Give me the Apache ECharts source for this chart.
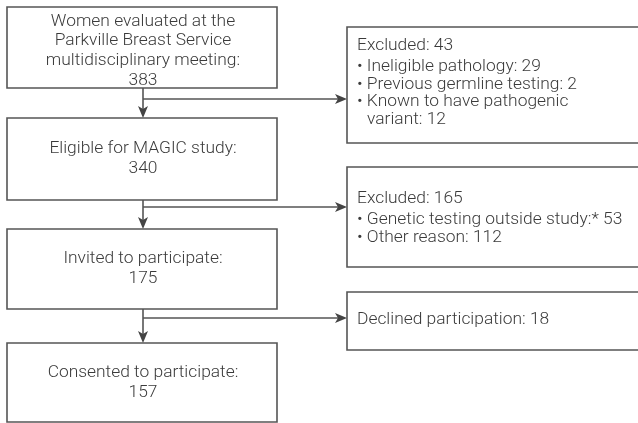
<!DOCTYPE html>
<html>
<head>
<meta charset="utf-8">
<script src="https://cdn.jsdelivr.net/npm/echarts@6/dist/echarts.min.js"></script>
<style>
  html, body { margin: 0; padding: 0; background: #fff; }
  #main { width: 638px; height: 423px; }
</style>
</head>
<body>
<div id="main"></div>
<script>
// flow stages (left column)
const stageLabels = ['Women evaluated at the\nParkville Breast Service\nmultidisciplinary meeting:', 'Eligible for MAGIC study:', 'Invited to participate:', 'Consented to participate:'];
const stageCounts = [383, 340, 175, 157];

// drop-outs (right column)
const outHeads = ['Excluded', 'Excluded', 'Declined participation'];
const outCounts = [43, 165, 18];
const reasonLabels = [
    ['Ineligible pathology', 'Previous germline testing', 'Known to have pathogenic\nvariant'],
    ['Genetic testing outside study:*', 'Other reason'],
    []
];
const reasonCounts = [[29, 2, 12], [53, 112], []];

// layout (pixels)
const leftX = 7, leftW = 270, trunkX = 143;
const leftTop = [7, 118, 229, 343], leftBot = [88, 200, 309, 422];
const rightX = 347, rightW = 330;
const rightTop = [27, 167, 292], rightBot = [143, 267, 350];
const branchY = [99, 207, 318];
const headY = [46, 199, 320], firstBulletY = [67, 220, 0];
const lineGap = 17.5, stageLH = 19.8;

const ink = '#3a3a3a', stroke = '#555', lw = 1.6;
const font = 'Roboto, "Open Sans", sans-serif';

function box(x, y, w, h) {
    return { type: 'rect', shape: { x: x, y: y, width: w, height: h }, style: { fill: 'none', stroke: stroke, lineWidth: lw } };
}
function seg(x1, y1, x2, y2) {
    return { type: 'line', shape: { x1: x1, y1: y1, x2: x2, y2: y2 }, style: { stroke: stroke, lineWidth: lw } };
}
// notched arrowhead, tip at (x, y)
function head(x, y, dir) {
    const L = 12, W = 5, N = 9;
    const pts = dir === 'down'
        ? [[x, y], [x - W, y - L], [x, y - N], [x + W, y - L]]
        : [[x, y], [x - L, y - W], [x - N, y], [x - L, y + W]];
    return { type: 'polygon', shape: { points: pts }, style: { fill: '#444' } };
}
function txt(s, x, y, align) {
    return { type: 'text', x: x, y: y, style: { text: s, fill: ink, font: '300 17.4px ' + font, align: align || 'left', verticalAlign: 'middle', lineHeight: stageLH } };
}

const els = [];
stageLabels.forEach((lab, i) => {
    els.push(box(leftX, leftTop[i], leftW, leftBot[i] - leftTop[i]));
    const s = lab + '\n' + stageCounts[i];
    const cy = (leftTop[i] + leftBot[i]) / 2 + (i === 0 ? 3.5 : 0);
    els.push(txt(s, leftX + leftW / 2 + 1, cy, 'center'));
    if (i < stageLabels.length - 1) {
        els.push(seg(trunkX, leftBot[i], trunkX, leftTop[i + 1] - 4));
        els.push(head(trunkX, leftTop[i + 1], 'down'));
        els.push(seg(trunkX, branchY[i], rightX - 4, branchY[i]));
        els.push(head(rightX, branchY[i], 'right'));
    }
});

outHeads.forEach((h, i) => {
    els.push(box(rightX, rightTop[i], rightW, rightBot[i] - rightTop[i]));
    els.push(txt(h + ': ' + outCounts[i], rightX + 10, headY[i]));
    let y = firstBulletY[i];
    reasonLabels[i].forEach((r, j) => {
        const parts = (r + (r.endsWith('*') ? ' ' : ': ') + reasonCounts[i][j]).split('\n');
        parts.forEach((p, k) => {
            els.push(txt(k === 0 ? '\u2022 ' + p : p, rightX + 10 + (k === 0 ? 0 : 10), y));
            y += lineGap;
        });
    });
});

const chart = echarts.init(document.getElementById('main'), null, { renderer: 'canvas' });
chart.setOption({ animation: false, graphic: { elements: els } });
window.addEventListener('resize', () => chart.resize());
</script>
</body>
</html>
